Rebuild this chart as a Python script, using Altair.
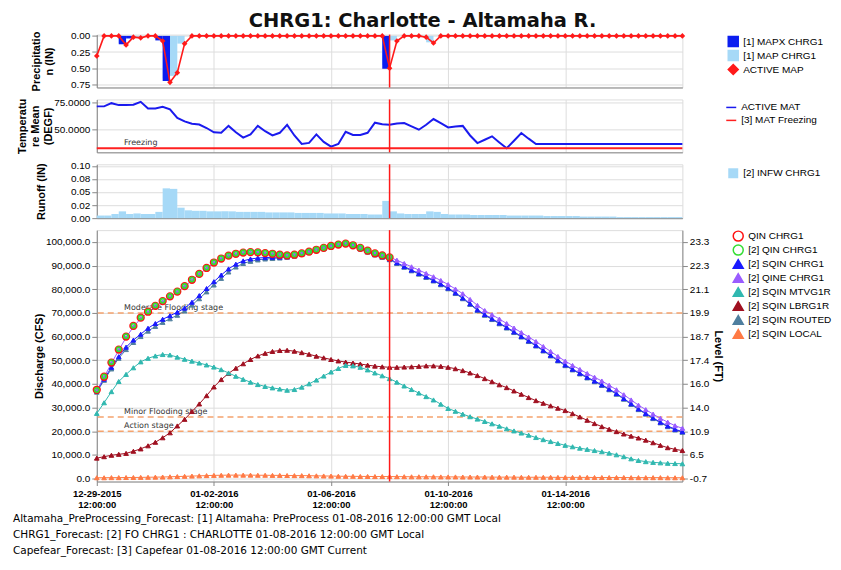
import altair as alt
import pandas as pd

# ---------------- text ----------------
TITLE = "CHRG1: Charlotte - Altamaha R."
FOOTER = [
    "Altamaha_PreProcessing_Forecast: [1] Altamaha: PreProcess 01-08-2016 12:00:00 GMT Local",
    "CHRG1_Forecast: [2] FO CHRG1 : CHARLOTTE 01-08-2016 12:00:00 GMT Local",
    "Capefear_Forecast: [3] Capefear 01-08-2016 12:00:00 GMT Current",
]

# ---------------- time axis (6-hourly) ----------------
TIME = [t.strftime("%Y-%m-%dT%H:%M:%SZ")
        for t in pd.date_range("2015-12-29 12:00", "2016-01-18 12:00", freq="6h")]
FORECAST_TIME = "2016-01-08T12:00:00Z"
XTICK_DATES = ["2015-12-29T12:00:00Z", "2016-01-02T12:00:00Z", "2016-01-06T12:00:00Z",
               "2016-01-10T12:00:00Z", "2016-01-14T12:00:00Z"]

# ---------------- panel 1: precipitation (IN) ----------------
P_SERIES = ["[1] MAPX CHRG1", "[1] MAP CHRG1", "ACTIVE MAP"]
P_COLORS = ["#0b1ef0", "#a6d9f7", "#ff1a1a"]
# 6-hour amounts, each for the period ending at TIME[1..80]
MAPX_IN = [0, 0, 0, 0.13, 0.04, 0, 0, 0, 0.07, 0.70,
           0, 0, 0, 0, 0, 0, 0, 0, 0, 0,
           0, 0, 0, 0, 0, 0, 0, 0, 0, 0,
           0, 0, 0, 0, 0, 0, 0, 0, 0, 0.51,
           0, 0, 0, 0, 0, 0, 0, 0, 0, 0,
           0, 0, 0, 0, 0, 0, 0, 0, 0, 0,
           0, 0, 0, 0, 0, 0, 0, 0, 0, 0,
           0, 0, 0, 0, 0, 0, 0, 0, 0, 0]
MAP_IN = [0, 0, 0, 0.11, 0.02, 0.03, 0, 0, 0.05, 0.66,
          0.62, 0.12, 0, 0, 0, 0, 0, 0, 0, 0,
          0, 0, 0, 0, 0, 0, 0, 0, 0, 0,
          0, 0, 0, 0, 0, 0, 0, 0, 0, 0.45,
          0.07, 0, 0, 0, 0.02, 0.10, 0, 0, 0, 0,
          0, 0, 0, 0, 0, 0, 0, 0, 0, 0,
          0, 0, 0, 0, 0, 0, 0, 0, 0, 0,
          0, 0, 0, 0, 0, 0, 0, 0, 0, 0]
ACTIVE_MAP = [0.31, 0, 0, 0, 0.14, 0.02, 0.03, 0, 0, 0.08,
              0.72, 0.57, 0.12, 0, 0, 0, 0, 0, 0, 0,
              0, 0, 0, 0, 0, 0, 0, 0, 0, 0,
              0, 0, 0, 0, 0, 0, 0, 0, 0, 0,
              0.50, 0.08, 0, 0, 0, 0.02, 0.11, 0, 0, 0,
              0, 0, 0, 0, 0, 0, 0, 0, 0, 0,
              0, 0, 0, 0, 0, 0, 0, 0, 0, 0,
              0, 0, 0, 0, 0, 0, 0, 0, 0, 0,
              0]

# ---------------- panel 2: temperature (DEGF) ----------------
T_SERIES = ["ACTIVE MAT", "[3] MAT Freezing"]
T_COLORS = ["#1a1aee", "#ff2020"]
ACTIVE_MAT = [71.3, 71.3, 74.3, 72.5, 72.5, 72.8, 75.6, 69.4, 69.4, 71.0,
              68.5, 60.5, 57.2, 55.0, 54.3, 51.0, 47.0, 46.5, 53.0, 47.0,
              42.0, 45.0, 53.0, 48.0, 44.0, 46.5, 54.0, 44.0, 36.0, 37.0,
              45.0, 38.0, 33.5, 36.0, 47.5, 44.5, 44.5, 46.5, 56.0, 54.5,
              54.0, 55.3, 55.6, 52.5, 49.4, 54.0, 59.4, 55.5, 51.6, 52.5,
              53.0, 44.0, 36.9, 40.0, 43.2, 37.5, 32.0, 39.0, 46.3, 41.0,
              36.0, 36.0, 36.0, 36.0, 36.0, 36.0, 36.0, 36.0, 36.0, 36.0,
              36.0, 36.0, 36.0, 36.0, 36.0, 36.0, 36.0, 36.0, 36.0, 36.0,
              36.0]
FREEZING_F = 32.0

# ---------------- panel 3: runoff (IN) ----------------
R_SERIES = ["[2] INFW CHRG1"]
INFW_IN = [0.005, 0.005, 0.008, 0.013, 0.008, 0.009, 0.008, 0.008, 0.012, 0.057,
           0.056, 0.020, 0.015, 0.014, 0.014, 0.013, 0.013, 0.013, 0.013, 0.012,
           0.012, 0.012, 0.012, 0.011, 0.011, 0.011, 0.011, 0.010, 0.010, 0.010,
           0.010, 0.009, 0.009, 0.009, 0.008, 0.008, 0.008, 0.007, 0.007, 0.033,
           0.013, 0.009, 0.008, 0.008, 0.008, 0.013, 0.012, 0.008, 0.007, 0.007,
           0.007, 0.006, 0.006, 0.006, 0.006, 0.006, 0.005, 0.005, 0.005, 0.005,
           0.005, 0.004, 0.004, 0.004, 0.004, 0.004, 0.003, 0.003, 0.003, 0.003,
           0.003, 0.002, 0.002, 0.002, 0.002, 0.002, 0.002, 0.002, 0.002, 0.002]
RUNOFF_TICKS = [0, 0.025, 0.05, 0.075, 0.1]
RUNOFF_TICK_LABELS = ["0.00", "0.02", "0.05", "0.08", "0.10"]

# ---------------- panel 4: discharge (CFS) ----------------
D_SERIES = ["QIN CHRG1", "[2] QIN CHRG1", "[2] SQIN CHRG1", "[2] QINE CHRG1",
            "[2] SQIN MTVG1R", "[2] SQIN LBRG1R", "[2] SQIN ROUTED", "[2] SQIN LOCAL"]
D_STROKE = ["#ff1010", "#33dd33", "#1a1aff", "#9a5cff", "#30b8b0", "#a01020", "#4f7f9f", "#ff7a45"]
D_FILL = ["transparent", "transparent", "#1a1aff", "#9a5cff", "#30b8b0", "#a01020", "#4f7f9f", "#ff7a45"]
D_SHAPE = ["circle", "circle"] + ["triangle-up"] * 6

QIN_CHRG1 = [37500, 43000, 49000, 54500, 60000, 64500, 68000, 70500, 73000, 75000,
             77000, 79000, 81300, 84000, 86500, 89000, 91300, 93000, 94200, 95000,
             95500, 95700, 95600, 95300, 95000, 94600, 94300, 94600, 95200, 95900,
             96700, 97500, 98300, 98900, 99300, 98600, 97500, 96300, 95200, 94300,
             93500]
QIN2_CHRG1 = [37400, 43100, 49100, 54600, 60100, 64600, 68100, 70600, 73100, 75100,
              77100, 79100, 81400, 84100, 86600, 89100, 91400, 93100, 94300, 95100,
              95600, 95800, 95700, 95400, 95100, 94700, 94400, 94700, 95300, 96000,
              96800, 97600, 98400, 99000, 99400, 98700, 97600, 96400, 95300, 94400,
              93600]
SQIN_CHRG1 = [37000, 42000, 47000, 51500, 55500, 58500, 61000, 63500, 65500, 67300,
              68800, 70300, 72000, 74500, 77300, 80300, 83200, 86000, 88600, 90600,
              92000, 92800, 93200, 93400, 93500, 93600, 93800, 94300, 95000, 95800,
              96600, 97400, 98200, 98800, 99200, 98600, 97300, 96000, 94800, 93800,
              92800, 91200, 89600, 88100, 86700, 85300, 83800, 82200, 80500, 78500,
              76300, 73900, 71300, 69300, 67500, 65700, 63900, 62000, 60100, 58200,
              56300, 54200, 52100, 50000, 48000, 46200, 44500, 42800, 41200, 39600,
              37800, 35900, 33800, 31600, 29400, 27500, 25600, 23800, 22200, 20800,
              19800]
QINE_CHRG1 = [37200, 42800, 48700, 54200, 59600, 64100, 67600, 70200, 72700, 74700,
              76700, 78800, 81100, 83800, 86300, 88800, 91100, 92800, 94000, 94800,
              95300, 95500, 95400, 95100, 94800, 94500, 94200, 94500, 95100, 95800,
              96600, 97400, 98200, 98800, 99200, 98700, 97700, 96500, 95400, 94400,
              93500, 92300, 90900, 89500, 88100, 86700, 85300, 83700, 82000, 80100,
              78100, 75700, 73200, 71000, 69200, 67400, 65500, 63600, 61700, 59800,
              57900, 55800, 53700, 51600, 49600, 47800, 46100, 44400, 42800, 41200,
              39400, 37500, 35400, 33200, 31000, 29100, 27200, 25400, 23800, 22300,
              21200]
SQIN_MTVG1R = [27500, 32000, 36700, 41000, 44000, 46800, 49300, 50800, 51800, 52400,
               52200, 51300, 50400, 49600, 48800, 48000, 47100, 46000, 44600, 43200,
               41900, 40700, 39700, 38900, 38300, 37800, 37300, 37600, 38600, 40000,
               41600, 43300, 45000, 46500, 47800, 47600, 47000, 45900, 44600, 43400,
               42200, 40700, 39100, 37600, 36100, 34600, 33200, 31400, 29600, 28400,
               27200, 26100, 25100, 24100, 23100, 22100, 21000, 20100, 19200, 18300,
               17300, 16400, 15600, 14800, 14000, 13400, 12800, 12300, 11800, 11300,
               10700, 10000, 9200, 8300, 7600, 7100, 6800, 6600, 6400, 6300,
               6200]
SQIN_LBRG1R = [8600, 9200, 9800, 10200, 10600, 11500, 12500, 13800, 15300, 17200,
               19300, 22200, 25000, 28300, 31500, 35000, 38700, 41800, 44400, 46600,
               48500, 50300, 51800, 52900, 53700, 54100, 54200, 53800, 53200, 52500,
               51700, 51000, 50300, 49700, 49200, 48800, 48400, 47900, 47500, 47200,
               47000, 47000, 47100, 47200, 47400, 47600, 47600, 47400, 47000, 46400,
               45600, 44600, 43500, 42200, 40900, 39600, 38400, 37000, 35600, 34200,
               32900, 31800, 30700, 29700, 28700, 27400, 26000, 24600, 23200, 21900,
               20800, 19800, 18800, 17900, 17100, 16200, 15100, 14000, 13000, 12300,
               11800]
SQIN_ROUTED = [36500, 41500, 46300, 50800, 54500, 57500, 60000, 62300, 64300, 66000,
               67500, 69000, 70800, 73300, 76000, 78900, 81800, 84600, 87300, 89400,
               90900, 91800, 92400, 92800, 93000, 93200, 93500, 94000, 94700, 95500,
               96300, 97100, 97900, 98500, 98900, 98300, 97000, 95700, 94500, 93500,
               92500, 90900, 89300, 87800, 86400, 85000, 83500, 81900, 80200, 78200,
               76000, 73600, 71000, 69000, 67200, 65400, 63600, 61700, 59800, 57900,
               56000, 53900, 51800, 49700, 47700, 45900, 44200, 42500, 40900, 39300,
               37500, 35600, 33500, 31300, 29100, 27200, 25300, 23500, 21900, 20500,
               19500]
SQIN_LOCAL = [300, 300, 350, 350, 400, 400, 450, 500, 550, 600,
              700, 800, 900, 1000, 1100, 1200, 1300, 1350, 1400, 1400,
              1400, 1400, 1350, 1350, 1300, 1300, 1250, 1200, 1200, 1150,
              1100, 1050, 1000, 950, 900, 900, 850, 850, 800, 800,
              800, 750, 750, 700, 700, 700, 700, 650, 650, 650,
              600, 600, 600, 600, 550, 550, 550, 550, 500, 500,
              500, 500, 500, 450, 450, 450, 450, 450, 400, 400,
              400, 400, 400, 350, 350, 350, 350, 350, 300, 300,
              300]

STAGE_NAMES = ["Moderate Flooding stage", "Minor Flooding stage", "Action stage"]
STAGE_FLOWS = [70000, 26000, 20000]
FLOW_TICKS = [0, 10000, 20000, 30000, 40000, 50000, 60000, 70000, 80000, 90000, 100000]
LEVEL_LABELS = ["-0.7", "6.5", "10.9", "14.0", "16.0", "17.4", "18.7", "19.9", "21.1", "22.3", "23.3"]

# ---------------- helpers ----------------
FONT = "DejaVu Sans"
W = 587


def ms(s):
    return int(pd.Timestamp(s).timestamp() * 1000)


XSCALE = alt.Scale(type="utc", domain=[ms(TIME[0]), ms(TIME[-1])], nice=False)
XTICKS = [ms(s) for s in XTICK_DATES]


def xenc(field="time", bottom=False):
    if bottom:
        ax = alt.Axis(values=XTICKS, title=None, grid=True, tickSize=4, labelPadding=3,
                      labelExpr="[utcFormat(datum.value, '%m-%d-%Y'), utcFormat(datum.value, '%H:%M:%S')]",
                      labelFlush=False, labelOverlap=False, labelLineHeight=11,
                      labelFontWeight="bold", labelFontSize=9.5)
    else:
        ax = alt.Axis(values=XTICKS, labels=False, ticks=False, title=None, grid=True)
    return alt.X(f"{field}:T", scale=XSCALE, axis=ax)


def legend(x=633, y=4, row=-1):
    return alt.Legend(title=None, orient="none", legendX=x, legendY=y, direction="vertical",
                      rowPadding=row)


def vline(bottom=False):
    return alt.Chart(pd.DataFrame({"time": [FORECAST_TIME]})).mark_rule(
        stroke="#ff1a1a", strokeWidth=1.5).encode(x=xenc("time", bottom))


# ---------------- panel 1 ----------------
bar_rows = []
for name, vals in (("[1] MAP CHRG1", MAP_IN), ("[1] MAPX CHRG1", MAPX_IN)):
    for i, v in enumerate(vals):
        bar_rows.append({"start": TIME[i], "end": TIME[i + 1], "series": name, "value": v})
p_bars = pd.DataFrame(bar_rows)
p_line = pd.DataFrame({"time": TIME, "series": "ACTIVE MAP", "value": ACTIVE_MAP})

PSCALE = alt.Scale(domain=[-0.02, 0.8], reverse=True, nice=False, zero=False)
PAXIS = alt.Axis(values=[0, 0.25, 0.5, 0.75], format=".2f", title=["Precipitatio", "n (IN)"],
                 titlePadding=16, grid=True)
PLEG = legend(632, 1, -2)
PCOLOR = alt.Color("series:N", scale=alt.Scale(domain=P_SERIES, range=P_COLORS), legend=PLEG)
PSHAPE = alt.Shape("series:N", scale=alt.Scale(domain=P_SERIES, range=["square", "square", "diamond"]),
                   legend=PLEG)

p1 = alt.layer(
    alt.Chart(p_bars).mark_rect().encode(
        x=xenc("start"), x2="end:T", y=alt.Y("value:Q", scale=PSCALE, axis=PAXIS),
        y2=alt.datum(0), color=PCOLOR),
    alt.Chart(p_line).mark_line(strokeWidth=1.6).encode(
        x=xenc(), y=alt.Y("value:Q", scale=PSCALE, axis=PAXIS), color=PCOLOR),
    alt.Chart(p_line).mark_point(filled=True, size=32, opacity=1).encode(
        x=xenc(), y=alt.Y("value:Q", scale=PSCALE, axis=PAXIS), color=PCOLOR, shape=PSHAPE),
    vline(),
).properties(width=W, height=53)

# ---------------- panel 2 ----------------
t_df = pd.concat([
    pd.DataFrame({"time": TIME, "series": "ACTIVE MAT", "value": ACTIVE_MAT}),
    pd.DataFrame({"time": [TIME[0], TIME[-1]], "series": "[3] MAT Freezing", "value": [FREEZING_F] * 2}),
])
TSCALE = alt.Scale(domain=[28.2, 77.8], nice=False, zero=False)
TAXIS = alt.Axis(values=[50, 75], format=".4f", title=["Temperatu", "re Mean", "(DEGF)"],
                 titlePadding=0, grid=True)
p2 = alt.layer(
    alt.Chart(t_df).mark_line(strokeWidth=2).encode(
        x=xenc(), y=alt.Y("value:Q", scale=TSCALE, axis=TAXIS),
        color=alt.Color("series:N", scale=alt.Scale(domain=T_SERIES, range=T_COLORS),
                        legend=legend(630, 2, 2)),
        detail="series:N"),
    alt.Chart(pd.DataFrame({"time": [TIME[4]], "label": ["Freezing"], "value": [FREEZING_F]})).mark_text(
        align="left", baseline="bottom", dx=-2, dy=-1, font=FONT, fontSize=8, color="#333").encode(
        x=xenc(), y=alt.Y("value:Q", scale=TSCALE, axis=TAXIS), text="label:N"),
    vline(),
).properties(width=W, height=53)

# ---------------- panel 3 ----------------
r_df = pd.DataFrame({"start": TIME[:-1], "end": TIME[1:], "series": R_SERIES[0], "value": INFW_IN})
RSCALE = alt.Scale(domain=[0, 0.103], nice=False)
runoff_expr = " : ".join(f"datum.value == {v} ? '{l}'" for v, l in zip(RUNOFF_TICKS, RUNOFF_TICK_LABELS)) + " : ''"
RAXIS = alt.Axis(values=RUNOFF_TICKS, labelExpr=runoff_expr, title="Runoff (IN)", titlePadding=24, grid=True)
p3 = alt.layer(
    alt.Chart(r_df).mark_rect().encode(
        x=xenc("start"), x2="end:T", y=alt.Y("value:Q", scale=RSCALE, axis=RAXIS), y2=alt.datum(0),
        color=alt.Color("series:N", scale=alt.Scale(domain=R_SERIES, range=["#a6d9f7"]),
                        legend=legend(632, 3, 0))),
    vline(),
).properties(width=W, height=54)

# ---------------- panel 4 ----------------
d_values = {
    "QIN CHRG1": QIN_CHRG1, "[2] QIN CHRG1": QIN2_CHRG1, "[2] SQIN CHRG1": SQIN_CHRG1,
    "[2] QINE CHRG1": QINE_CHRG1, "[2] SQIN MTVG1R": SQIN_MTVG1R, "[2] SQIN LBRG1R": SQIN_LBRG1R,
    "[2] SQIN ROUTED": SQIN_ROUTED, "[2] SQIN LOCAL": SQIN_LOCAL,
}
tri_order = ["[2] SQIN LOCAL", "[2] SQIN LBRG1R", "[2] SQIN MTVG1R", "[2] SQIN ROUTED",
             "[2] SQIN CHRG1", "[2] QINE CHRG1"]
circ_order = ["QIN CHRG1", "[2] QIN CHRG1"]
tri_df = pd.concat([pd.DataFrame({"time": TIME[:len(d_values[s])], "series": s, "value": d_values[s]})
                    for s in tri_order])
circ_df = pd.concat([pd.DataFrame({"time": TIME[:len(d_values[s])], "series": s, "value": d_values[s]})
                     for s in circ_order])
stage_df = pd.DataFrame({"time": TIME[4], "label": STAGE_NAMES, "value": STAGE_FLOWS})

DSCALE = alt.Scale(domain=[-1300, 105000], nice=False, zero=False)
DAXIS = alt.Axis(values=FLOW_TICKS, format=",.1f", title="Discharge (CFS)", titlePadding=1, grid=True)
level_expr = " : ".join(f"datum.value == {v} ? '{l}'" for v, l in zip(FLOW_TICKS, LEVEL_LABELS)) + " : ''"
RIGHT_AXIS = alt.Axis(orient="right", values=FLOW_TICKS, labelExpr=level_expr, title="Level (FT)",
                      titleAngle=90, titlePadding=4, grid=False)
DLEG = legend(637, 0, -2)
D_STROKE_ENC = alt.Stroke("series:N", scale=alt.Scale(domain=D_SERIES, range=D_STROKE), legend=DLEG)
D_FILL_ENC = alt.Fill("series:N", scale=alt.Scale(domain=D_SERIES, range=D_FILL), legend=DLEG)
D_SHAPE_ENC = alt.Shape("series:N", scale=alt.Scale(domain=D_SERIES, range=D_SHAPE), legend=DLEG)
DY = alt.Y("value:Q", scale=DSCALE, axis=DAXIS)

left = alt.layer(
    alt.Chart(stage_df).mark_rule(strokeDash=[6, 4], strokeWidth=1.5, color="#f5a36e").encode(y=DY),
    alt.Chart(stage_df).mark_text(align="left", baseline="bottom", dx=-2, dy=-1, font=FONT,
                                  fontSize=8, color="#333").encode(x=xenc(bottom=True), y=DY, text="label:N"),
    alt.Chart(tri_df).mark_line(strokeWidth=1).encode(x=xenc(bottom=True), y=DY, stroke=D_STROKE_ENC,
                                                      detail="series:N"),
    alt.Chart(tri_df).mark_point(size=22, strokeWidth=1, opacity=1).encode(
        x=xenc(bottom=True), y=DY, stroke=D_STROKE_ENC, fill=D_FILL_ENC, shape=D_SHAPE_ENC),
    alt.Chart(circ_df).mark_point(strokeWidth=1.8, opacity=1).encode(
        x=xenc(bottom=True), y=DY, stroke=D_STROKE_ENC, fill=D_FILL_ENC, shape=D_SHAPE_ENC,
        size=alt.Size("series:O", scale=alt.Scale(domain=circ_order, range=[42, 18]), legend=None)),
    vline(bottom=True),
)
right = alt.Chart(stage_df).mark_rule(opacity=0).encode(
    y=alt.Y("value:Q", scale=DSCALE, axis=RIGHT_AXIS))
p4 = alt.layer(left, right).resolve_scale(y="independent").properties(
    width=W, height=252,
    title=alt.TitleParams(text=FOOTER, orient="bottom", anchor="start", frame="group", fontSize=10.5,
                          fontWeight="normal", font=FONT, color="#000", dx=-84, offset=5, lineHeight=16))

chart = alt.vconcat(p1, p2, p3, p4, spacing=12, bounds="flush").resolve_scale(
    color="independent", fill="independent", stroke="independent", shape="independent"
).resolve_legend(
    color="independent", fill="independent", stroke="independent", shape="independent"
).properties(
    padding={"left": 4, "top": 2, "right": 0, "bottom": 0},
    title=alt.TitleParams(TITLE, fontSize=19.5, font=FONT, fontWeight="bold", anchor="middle", offset=-1,
                          color="#111")
).configure_view(stroke="#a0a0a0", strokeWidth=1.5).configure_axis(
    labelFont=FONT, titleFont=FONT, labelFontWeight="bold", titleFontWeight="bold",
    labelFontSize=8, titleFontSize=9, labelColor="#111", titleColor="#111",
    gridColor="#cfcfcf", gridDash=[2, 2], domain=False, tickColor="#888", tickSize=3, labelPadding=2
).configure_legend(
    labelFont=FONT, labelFontSize=9, labelFontWeight="bold", labelColor="#111",
    symbolSize=45, symbolStrokeWidth=1.6, labelOffset=5, padding=0
).configure(background="white")

chart.save("out.html", embed_options={"renderer": "svg", "actions": False})
